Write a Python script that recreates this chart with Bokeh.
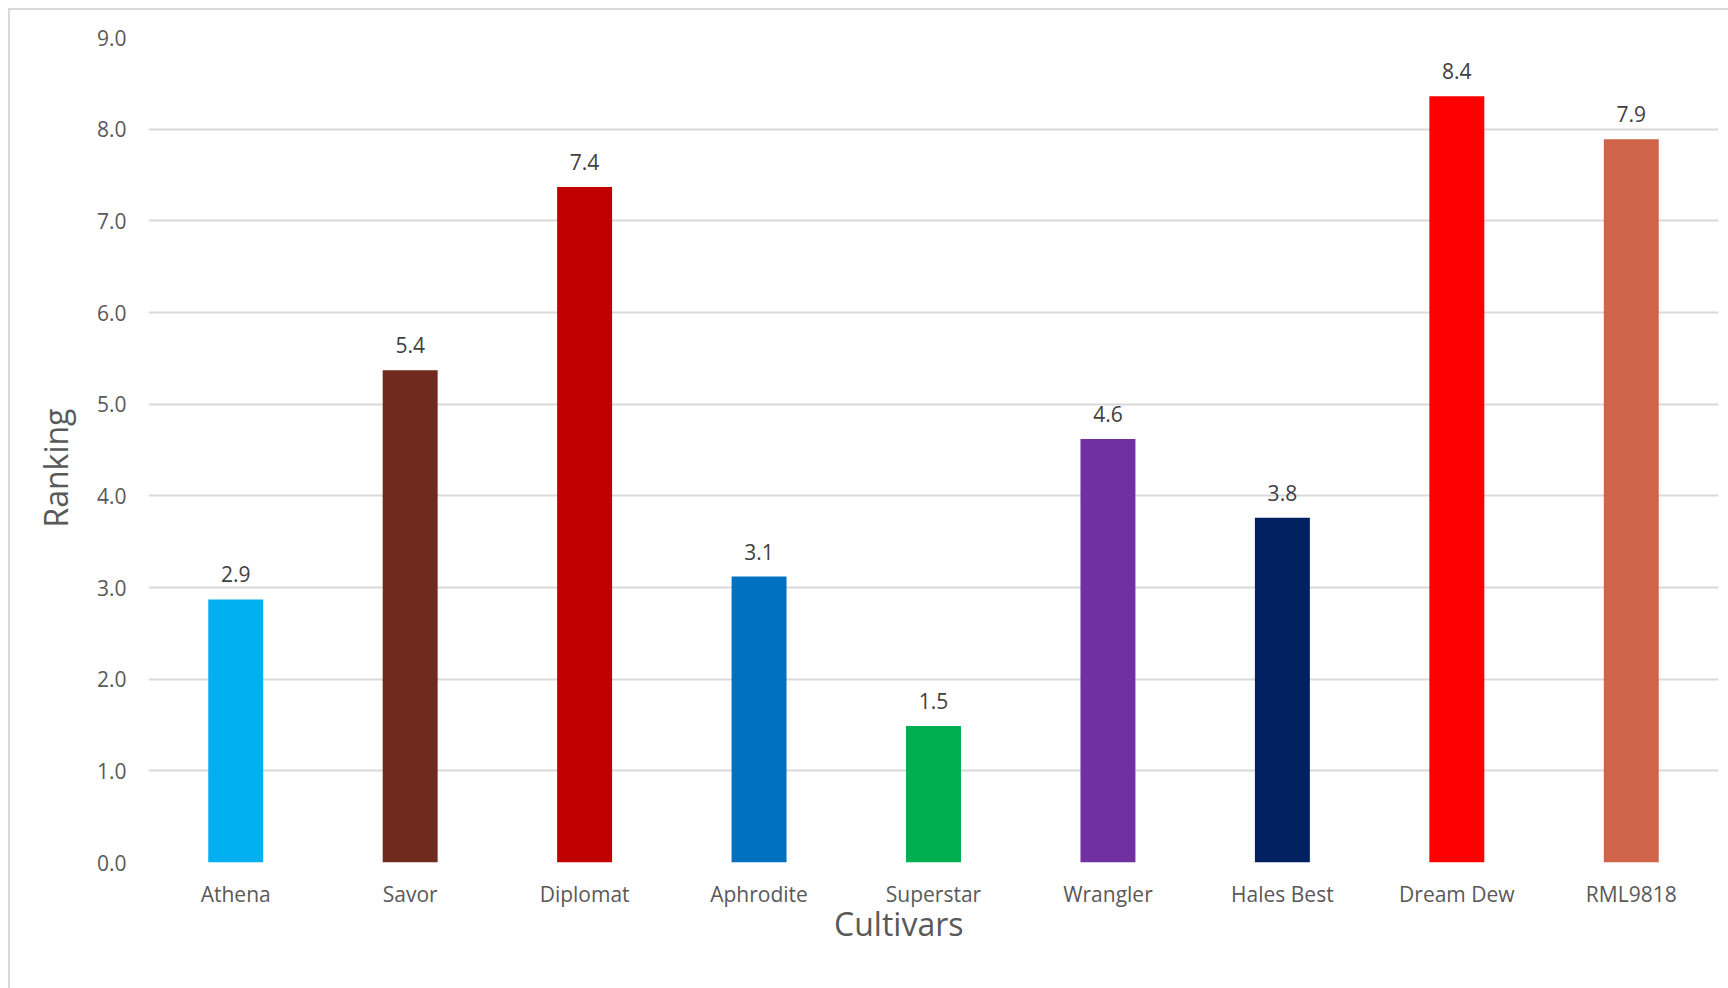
from bokeh.embed import file_html
from bokeh.models import ColumnDataSource, FactorRange, Range1d, FixedTicker, NumeralTickFormatter, Title
from bokeh.plotting import figure
from bokeh.resources import INLINE
from bokeh.core.properties import value

# Mean ranking per cultivar
cultivars = ["Athena", "Savor", "Diplomat", "Aphrodite", "Superstar",
             "Wrangler", "Hales Best", "Dream Dew", "RML9818"]
rankings = [2.87, 5.37, 7.37, 3.12, 1.49, 4.62, 3.76, 8.36, 7.89]
bar_colors = ["#00B0F0", "#6F2B1D", "#C00000", "#0070C0", "#00B050",
              "#7030A0", "#002060", "#FF0000", "#D0644B"]
y_ticks = [0, 1, 2, 3, 4, 5, 6, 7, 8, 9]

FONT = "Open Sans"
W, H = 1718, 978

source = ColumnDataSource(dict(
    cultivar=cultivars,
    ranking=rankings,
    color=bar_colors,
    label=[f"{v:.1f}" for v in rankings],
))

p = figure(
    x_range=FactorRange(*cultivars, range_padding=0),
    y_range=Range1d(0, 9),
    width=W, height=H,
    min_border_left=138, min_border_right=10,
    min_border_top=27, min_border_bottom=126,
    output_backend="svg", toolbar_location=None,
    background_fill_color="white", border_fill_color="white",
)
p.margin = (10, 0, 0, 10)
p.styles = {"outline": "2px solid #d9d9d9"}
p.outline_line_color = None

p.vbar(x="cultivar", top="ranking", width=0.315, color="color",
       line_color=None, source=source)

p.text(x="cultivar", y="ranking", text="label", source=source,
       text_align="center", text_baseline="alphabetic", y_offset=-25,
       text_font=value(FONT), text_font_size="21px", text_color="#404040")

# grid
p.xgrid.grid_line_color = None
p.ygrid.grid_line_color = "#d9d9d9"
p.ygrid.grid_line_width = 2

# y axis
p.yaxis.ticker = FixedTicker(ticks=y_ticks)
p.yaxis.formatter = NumeralTickFormatter(format="0.0")
p.yaxis.axis_line_color = None
p.yaxis.major_tick_line_color = None
p.yaxis.minor_tick_line_color = None
p.yaxis.major_tick_out = 0
p.yaxis.major_tick_in = 0
p.yaxis.major_label_standoff = 22
p.yaxis.major_label_text_font = FONT
p.yaxis.major_label_text_font_size = "21px"
p.yaxis.major_label_text_color = "#595959"

# x axis
p.xaxis.axis_line_color = None
p.xaxis.major_tick_line_color = None
p.xaxis.minor_tick_line_color = None
p.xaxis.major_label_standoff = 11
p.xaxis.major_label_text_font = FONT
p.xaxis.major_label_text_font_size = "21px"
p.xaxis.major_label_text_color = "#595959"

# axis titles as side titles so they can sit off-centre
p.add_layout(Title(text="Cultivars", align="right", offset=755, standoff=-22,
                   text_font=FONT, text_font_size="32px",
                   text_font_style="normal", text_color="#595959"), "below")
p.add_layout(Title(text="Ranking", align="right", offset=371, standoff=34,
                   text_font=FONT, text_font_size="32px",
                   text_font_style="normal", text_color="#595959"), "left")

open("out.html", "w").write(file_html(p, INLINE))
